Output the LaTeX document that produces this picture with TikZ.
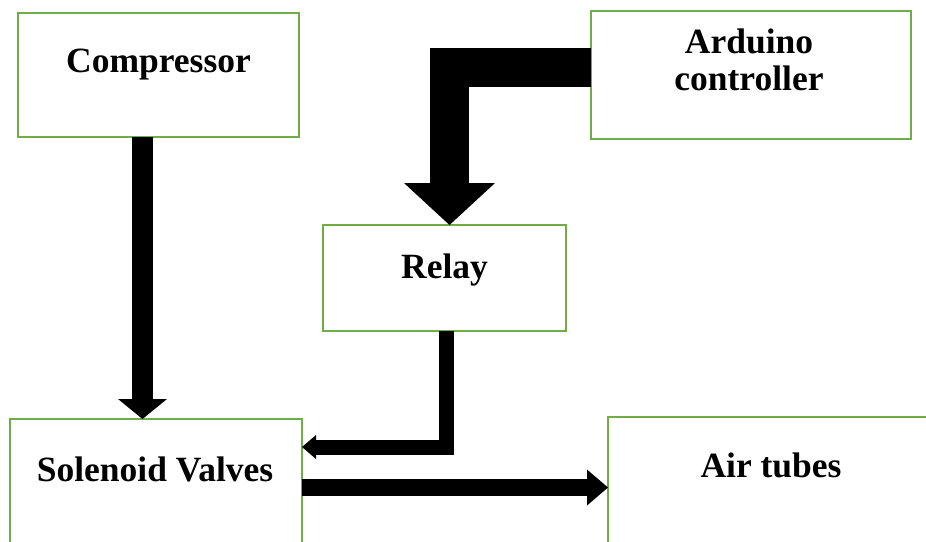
\documentclass[tikz,border=0pt]{standalone}
\usepackage{fontspec}
\setmainfont{Liberation Serif}
\usetikzlibrary{arrows.meta,calc}
\definecolor{boxgreen}{RGB}{112,173,71}
\begin{document}
\begin{tikzpicture}[x=1pt,y=-1pt,
  box/.style={draw=boxgreen, line width=2.5pt, rectangle, inner sep=0pt, outer sep=0pt, anchor=north west},
  lbl/.style={font=\fontsize{35.5}{37}\selectfont\bfseries, inner sep=0pt, outer sep=0pt},
  flow/.style={line width=#1, line join=miter, line cap=butt, draw=black},
]
\useasboundingbox (0,0) rectangle (926,541);
\clip (0,0) rectangle (926,541);
\node[box, minimum width=281pt, minimum height=124pt] (comp) at (18,13) {};
\node[box, minimum width=320pt, minimum height=128pt] (ard) at (591,11) {};
\node[box, minimum width=243pt, minimum height=106pt] (relay) at (323,225) {};
\node[box, minimum width=292pt, minimum height=160pt] (sol) at (10,419) {};
\node[box, minimum width=340pt, minimum height=160pt] (air) at (608,417) {};

\node[lbl, anchor=base] (tcomp) at (158.5,72) {Compressor};
\node[lbl, align=center, anchor=north] (tard) at (749,29) {Arduino\\controller};
\node[lbl, anchor=base] (trelay) at (444.5,278) {Relay};
\node[lbl, anchor=base] (tsol) at (155,481) {Solenoid Valves};
\node[lbl, anchor=base] (tair) at (771,477) {Air tubes};

\coordinate (c1) at ($(comp.south)+(-16,0)$);
\draw[flow=21pt, -{Triangle[width=49pt,length=20pt,line width=0pt]}] (c1) -- (c1 |- sol.north);

\coordinate (a1) at ($(ard.north west)+(0,56)$);
\coordinate (a2) at ($(relay.north)+(5,0)$);
\draw[flow=39pt, -{Triangle[width=91pt,length=42pt,line width=0pt]}] (a1) -| (a2);

\coordinate (r1) at ($(relay.south)+(1.5,0)$);
\coordinate (r2) at ($(sol.north east)+(0,28)$);
\draw[flow=15pt, -{Triangle[width=24pt,length=14pt,line width=0pt]}] (r1) |- (r2);

\coordinate (s1) at ($(sol.north east)+(0,68.5)$);
\draw[flow=17pt, -{Triangle[width=36pt,length=21pt,line width=0pt]}] (s1) -- (s1 -| air.west);
\end{tikzpicture}
\end{document}
